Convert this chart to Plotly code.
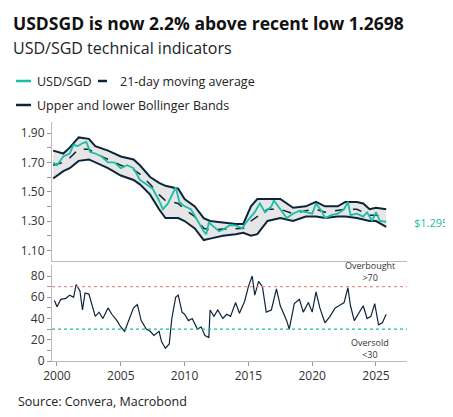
import plotly.graph_objects as go

sgd_x = [1999.7,2000.0,2000.5,2001.0,2001.3,2001.6,2002.0,2002.3,2002.6,2003.0,2003.5,2004.0,2004.5,2005.0,2005.5,2006.0,2006.5,2007.0,2007.5,2008.0,2008.3,2008.7,2009.1,2009.3,2009.6,2010.0,2010.5,2011.0,2011.5,2011.7,2011.9,2012.3,2012.7,2013.0,2013.5,2014.0,2014.5,2015.0,2015.5,2015.9,2016.3,2016.8,2017.0,2017.5,2018.0,2018.5,2019.0,2019.5,2020.0,2020.3,2020.8,2021.0,2021.5,2022.0,2022.5,2022.8,2023.0,2023.5,2024.0,2024.3,2024.7,2025.0,2025.3,2025.8]
sgd_y = [1.70,1.68,1.74,1.76,1.82,1.81,1.83,1.84,1.77,1.76,1.74,1.70,1.70,1.66,1.68,1.66,1.58,1.55,1.52,1.44,1.38,1.42,1.50,1.53,1.43,1.40,1.38,1.30,1.23,1.21,1.29,1.26,1.23,1.24,1.27,1.27,1.25,1.31,1.36,1.42,1.36,1.40,1.44,1.38,1.32,1.35,1.37,1.36,1.35,1.42,1.36,1.32,1.34,1.35,1.38,1.43,1.34,1.35,1.33,1.36,1.30,1.36,1.30,1.295]

band_x = [1999.7,2000.5,2001.0,2001.7,2002.5,2003.0,2004.0,2005.0,2006.0,2006.5,2007.3,2008.0,2008.5,2009.5,2010.0,2010.8,2011.5,2012.0,2013.0,2014.0,2014.6,2015.2,2015.7,2016.5,2017.5,2018.5,2019.5,2020.3,2021.0,2022.0,2022.6,2023.5,2024.0,2024.5,2025.0,2025.8]
upper = [1.78,1.76,1.80,1.87,1.86,1.81,1.78,1.74,1.72,1.68,1.60,1.56,1.54,1.52,1.45,1.40,1.32,1.30,1.29,1.28,1.28,1.40,1.45,1.45,1.45,1.39,1.40,1.43,1.40,1.40,1.43,1.43,1.42,1.38,1.39,1.38]
lower = [1.59,1.64,1.66,1.71,1.72,1.70,1.66,1.61,1.58,1.55,1.48,1.38,1.32,1.32,1.30,1.25,1.17,1.18,1.20,1.21,1.22,1.20,1.21,1.30,1.32,1.30,1.33,1.33,1.32,1.33,1.33,1.32,1.31,1.30,1.30,1.26]
ma = [1.68,1.70,1.73,1.79,1.79,1.76,1.72,1.68,1.65,1.62,1.55,1.48,1.44,1.42,1.38,1.33,1.25,1.24,1.245,1.25,1.25,1.30,1.33,1.38,1.38,1.35,1.37,1.38,1.36,1.37,1.38,1.38,1.36,1.34,1.34,1.32]

rsi_x = [1999.8,2000.0,2000.3,2000.7,2001.0,2001.3,2001.5,2001.8,2002.0,2002.2,2002.5,2002.8,2003.0,2003.3,2003.6,2004.0,2004.3,2004.7,2005.0,2005.3,2005.6,2006.0,2006.3,2006.6,2007.0,2007.3,2007.6,2008.0,2008.2,2008.5,2008.8,2009.0,2009.3,2009.5,2009.8,2010.0,2010.3,2010.6,2011.0,2011.3,2011.6,2011.9,2012.0,2012.3,2012.6,2013.0,2013.3,2013.6,2014.0,2014.3,2014.7,2015.0,2015.3,2015.5,2015.8,2016.1,2016.4,2016.8,2017.2,2017.5,2018.0,2018.2,2018.6,2019.0,2019.3,2019.7,2020.0,2020.3,2020.6,2021.0,2021.4,2021.8,2022.1,2022.5,2022.8,2023.0,2023.3,2023.6,2024.0,2024.3,2024.6,2024.9,2025.2,2025.5,2025.8]
rsi_y = [57,51,58,59,62,60,72,66,48,64,63,50,42,46,40,50,44,38,32,28,38,50,53,38,30,28,24,28,18,12,16,40,60,62,46,44,38,40,30,32,24,22,48,42,48,40,44,42,55,45,56,70,80,62,75,70,46,48,68,52,38,30,54,58,46,55,46,65,50,36,42,50,52,55,69,52,38,44,52,40,42,54,34,36,44]

last_label = "$1.295"
TEAL = "#19bfa5"
NAVY = "#0e2439"
FONT = "Open Sans"

fig = go.Figure()
fig.add_trace(go.Scatter(x=band_x, y=lower, mode="lines", line=dict(color=NAVY, width=2), xaxis="x", yaxis="y", showlegend=False))
fig.add_trace(go.Scatter(x=band_x, y=upper, mode="lines", line=dict(color=NAVY, width=2), fill="tonexty", fillcolor="#e6e6e6", xaxis="x", yaxis="y", showlegend=False))
fig.add_trace(go.Scatter(x=band_x, y=ma, mode="lines", line=dict(color=NAVY, width=1.5, dash="dash"), xaxis="x", yaxis="y", showlegend=False))
fig.add_trace(go.Scatter(x=sgd_x, y=sgd_y, mode="lines", line=dict(color=TEAL, width=1.8), xaxis="x", yaxis="y", showlegend=False))
fig.add_trace(go.Scatter(x=rsi_x, y=rsi_y, mode="lines", line=dict(color=NAVY, width=1.2), xaxis="x2", yaxis="y2", showlegend=False))

W, H = 453, 417
L, R, T, B = 44, 54, 114, 64
def px(x): return (x - L) / (W - L - R)
def py(y): return (H - B - y) / (H - T - B)

axis_common = dict(showline=True, linecolor="#bbbbbb", ticks="outside", tickcolor="#999999", ticklen=4,
                   showgrid=False, zeroline=False, tickfont=dict(family=FONT, size=12, color="#333333"))
fig.update_layout(
    width=W, height=H, margin=dict(l=L, r=R, t=T, b=B),
    plot_bgcolor="white", paper_bgcolor="white", showlegend=False,
    font=dict(family=FONT, color="#222222"),
    xaxis=dict(domain=[0, 1], anchor="y", range=[1999.61, 2027.43], showticklabels=False, showline=True, linecolor="#bbbbbb", ticks="", showgrid=False, zeroline=False),
    yaxis=dict(domain=[0.42, 1], anchor="x", range=[1.03, 1.975], tickvals=[1.1, 1.3, 1.5, 1.7, 1.9], ticktext=["1.10", "1.30", "1.50", "1.70", "1.90"],
               minor=dict(tickvals=[1.2, 1.4, 1.6, 1.8], ticks="outside", ticklen=4, tickcolor="#999999"), **axis_common),
    xaxis2=dict(domain=[0, 1], anchor="y2", range=[1999.61, 2027.43], tickvals=[2000, 2005, 2010, 2015, 2020, 2025], **axis_common),
    yaxis2=dict(domain=[0, 0.40], anchor="x2", range=[0, 90], tickvals=[0, 20, 40, 60, 80],
                minor=dict(tickvals=[10, 30, 50, 70], ticks="outside", ticklen=4, tickcolor="#999999"), **axis_common),
)
fig.add_shape(type="line", xref="x2 domain", yref="y2", x0=0, x1=1, y0=70, y1=70, line=dict(color="#e8928a", width=1.2, dash="dot"))
fig.add_shape(type="line", xref="x2 domain", yref="y2", x0=0, x1=1, y0=30, y1=30, line=dict(color=TEAL, width=1.2, dash="dot"))

ann = []
ann.append(dict(text="<b>USDSGD is now 2.2% above recent low 1.2698</b>", x=px(3), y=py(15), xref="paper", yref="paper", xanchor="left", yanchor="middle", showarrow=False, font=dict(family=FONT, size=17.5, color="#111111")))
ann.append(dict(text="USD/SGD technical indicators", x=px(3), y=py(40), xref="paper", yref="paper", xanchor="left", yanchor="middle", showarrow=False, font=dict(family=FONT, size=16, color="#222222")))
ann.append(dict(text="USD/SGD", x=px(27), y=py(73), xref="paper", yref="paper", xanchor="left", yanchor="middle", showarrow=False, font=dict(family=FONT, size=12.5)))
ann.append(dict(text="21-day moving average", x=px(110), y=py(73), xref="paper", yref="paper", xanchor="left", yanchor="middle", showarrow=False, font=dict(family=FONT, size=12.5)))
ann.append(dict(text="Upper and lower Bollinger Bands", x=px(27), y=py(97), xref="paper", yref="paper", xanchor="left", yanchor="middle", showarrow=False, font=dict(family=FONT, size=12.5)))
ann.append(dict(text=last_label, x=px(404), y=py(214), xref="paper", yref="paper", xanchor="left", yanchor="middle", showarrow=False, font=dict(family=FONT, size=11, color=TEAL)))
ann.append(dict(text="Overbought<br>>70", x=2024.5, y=84, xref="x2", yref="y2", xanchor="center", yanchor="middle", showarrow=False, font=dict(family=FONT, size=9, color="#333333")))
ann.append(dict(text="Oversold<br><30", x=2024.5, y=12, xref="x2", yref="y2", xanchor="center", yanchor="middle", showarrow=False, font=dict(family=FONT, size=9, color="#333333")))
ann.append(dict(text="Source: Convera, Macrobond", x=px(8), y=py(393), xref="paper", yref="paper", xanchor="left", yanchor="middle", showarrow=False, font=dict(family=FONT, size=12.5, color="#222222")))
fig.update_layout(annotations=ann)

for (x0, x1, y, col, dash) in [(8, 23, 73, TEAL, "solid"), (90, 106, 73, NAVY, "dash"), (8, 23, 97, NAVY, "solid")]:
    fig.add_shape(type="line", xref="paper", yref="paper", x0=px(x0), x1=px(x1), y0=py(y), y1=py(y), line=dict(color=col, width=2.5, dash=dash))

fig.write_html("out.html")
